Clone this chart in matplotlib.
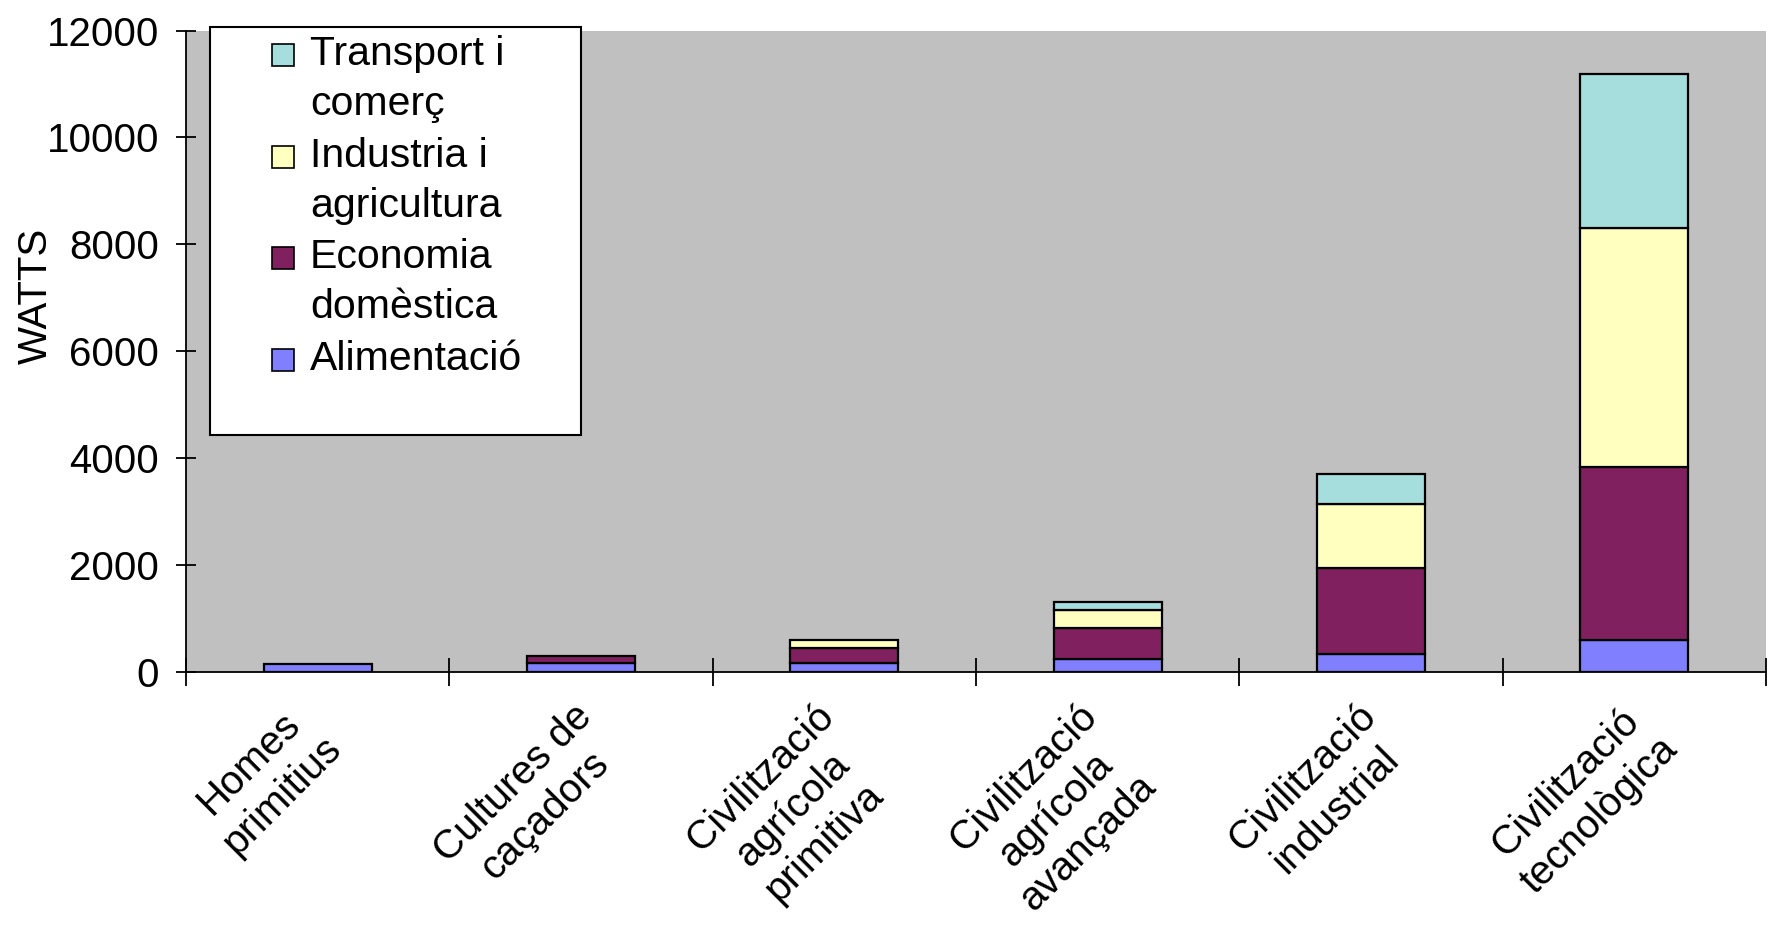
import matplotlib
matplotlib.use("Agg")
import matplotlib.pyplot as plt
import matplotlib.transforms as mtransforms
from matplotlib.patches import Rectangle
import numpy as np

plt.rcParams['font.family'] = ['Liberation Sans', 'DejaVu Sans']

# data (W)
categories = ["Homes\nprimitius", "Cultures de\ncaçadors", "Civilització\nagrícola\nprimitiva",
              "Civilització\nagrícola\navançada", "Civilització\nindustrial", "Civilització\ntecnològica"]
alimentacio = [150, 165, 175, 250, 330, 600]
economia = [0, 135, 265, 570, 1620, 3230]
industria = [0, 0, 160, 340, 1190, 4480]
transport = [0, 0, 0, 150, 560, 2870]

series = [("Alimentació", alimentacio, "#8080FF"),
          ("Economia\ndomèstica", economia, "#80205F"),
          ("Industria i\nagricultura", industria, "#FFFFC0"),
          ("Transport i\ncomerç", transport, "#A6DEDE")]

FS = 29
W, H = 1773, 931

fig = plt.figure(figsize=(W/100, H/100), dpi=100)
ax = fig.add_axes([186/W, (H-672)/H, (1766-186)/W, (672-30.5)/H])
ax.set_facecolor("#C0C0C0")

x = np.arange(len(categories))
bottom = np.zeros(len(categories))
for name, vals, col in series:
    vals = np.array(vals, dtype=float)
    mask = vals > 0
    ax.bar(x[mask], vals[mask], bottom=bottom[mask], width=0.41, color=col,
           edgecolor="black", linewidth=1.6, zorder=3)
    bottom += vals

ax.set_xlim(-0.5, len(categories) - 0.5)
ax.set_ylim(0, 12000)
ax.set_yticks(np.arange(0, 12001, 2000))
ax.tick_params(axis="y", direction="inout", length=15, width=1.3, labelsize=FS, pad=12)

ax.set_xticks(x)
ax.set_xticklabels(categories, rotation=45, ha="center", va="top", fontsize=FS,
                   multialignment="center", linespacing=1.25)
ax.tick_params(axis="x", which="major", length=0, pad=18)
ax.set_xticks(np.arange(-0.5, len(categories)), minor=True)
ax.tick_params(axis="x", which="minor", direction="inout", length=20, width=1.3)
shift = mtransforms.ScaledTranslation(-52/100, 0, fig.dpi_scale_trans)
for lab in ax.get_xticklabels():
    lab.set_transform(lab.get_transform() + shift)

for s in ["top", "right"]:
    ax.spines[s].set_visible(False)
for s in ["left", "bottom"]:
    ax.spines[s].set_linewidth(1.3)

ax.set_ylabel("WATTS", fontsize=FS, va="center")
ax.yaxis.set_label_coords((36-186)/1580, 0.586)

# legend drawn by hand: markers line up with the first text line
fig.patches.append(Rectangle((210/W, 1 - 435/H), (581-210)/W, (435-27)/H,
                             transform=fig.transFigure, facecolor="white",
                             edgecolor="black", linewidth=1.5, zorder=5))
leg_rows = [55, 157, 258, 360]
for (name, _, col), yc in zip(series[::-1], leg_rows):
    fig.patches.append(Rectangle((272/W, 1 - (yc + 11)/H), 22/W, 22/H,
                                 transform=fig.transFigure, facecolor=col,
                                 edgecolor="black", linewidth=1.2, zorder=6))
    fig.text(310/W, 1 - (yc - 20)/H, name, fontsize=FS + 0.5, ha="left", va="top",
             linespacing=1.4, zorder=7)

fig.savefig("out.png", dpi=100)
